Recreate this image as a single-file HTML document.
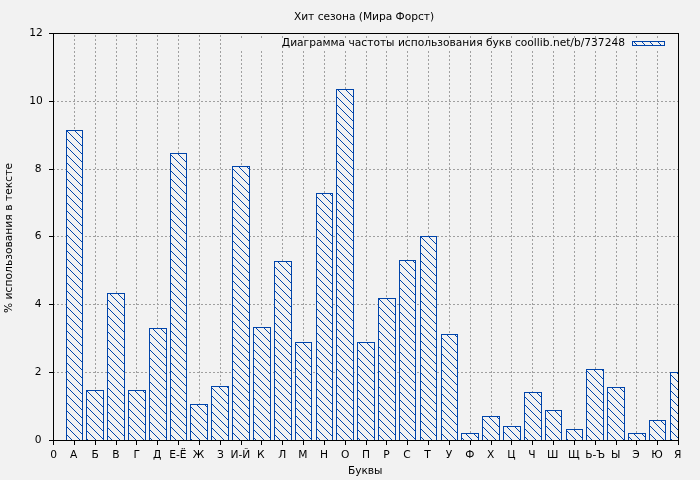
<!DOCTYPE html>
<html lang="ru"><head><meta charset="utf-8"><title>Хит сезона (Мира Форст)</title>
<style>html,body{margin:0;padding:0;background:#f2f2f2;}body{width:700px;height:480px;overflow:hidden;}svg{display:block;}</style>
</head><body>
<svg width="700" height="480" viewBox="0 0 700 480" font-family="'DejaVu Sans', 'Liberation Sans', sans-serif" font-size="10.667" fill="#000">
<rect width="700" height="480" fill="#f2f2f2"/>
<g stroke="#a0a0a0" stroke-width="1" stroke-dasharray="2 2" shape-rendering="crispEdges" fill="none">
<path d="M74.5 441V34"/>
<path d="M95.5 441V34"/>
<path d="M116.5 441V34"/>
<path d="M136.5 441V34"/>
<path d="M157.5 441V34"/>
<path d="M178.5 441V34"/>
<path d="M199.5 441V34"/>
<path d="M220.5 441V34"/>
<path d="M241.5 441V50"/>
<path d="M241.5 38V34"/>
<path d="M261.5 441V50"/>
<path d="M261.5 38V34"/>
<path d="M282.5 441V50"/>
<path d="M282.5 38V34"/>
<path d="M303.5 441V50"/>
<path d="M303.5 38V34"/>
<path d="M324.5 441V50"/>
<path d="M324.5 38V34"/>
<path d="M345.5 441V50"/>
<path d="M345.5 38V34"/>
<path d="M366.5 441V50"/>
<path d="M366.5 38V34"/>
<path d="M386.5 441V50"/>
<path d="M386.5 38V34"/>
<path d="M407.5 441V50"/>
<path d="M407.5 38V34"/>
<path d="M428.5 441V50"/>
<path d="M428.5 38V34"/>
<path d="M449.5 441V50"/>
<path d="M449.5 38V34"/>
<path d="M470.5 441V50"/>
<path d="M470.5 38V34"/>
<path d="M491.5 441V50"/>
<path d="M491.5 38V34"/>
<path d="M511.5 441V50"/>
<path d="M511.5 38V34"/>
<path d="M532.5 441V50"/>
<path d="M532.5 38V34"/>
<path d="M553.5 441V50"/>
<path d="M553.5 38V34"/>
<path d="M574.5 441V50"/>
<path d="M574.5 38V34"/>
<path d="M595.5 441V50"/>
<path d="M595.5 38V34"/>
<path d="M616.5 441V50"/>
<path d="M616.5 38V34"/>
<path d="M636.5 441V50"/>
<path d="M636.5 38V34"/>
<path d="M657.5 441V50"/>
<path d="M657.5 38V34"/>
<path d="M53 372.5H678"/>
<path d="M53 304.5H678"/>
<path d="M53 236.5H678"/>
<path d="M53 169.5H678"/>
<path d="M53 101.5H678"/>
</g>
<defs><pattern id="hp" width="8" height="8" patternUnits="userSpaceOnUse" shape-rendering="crispEdges"><rect x="0" y="0" width="1" height="1" fill="#0044aa"/><rect x="1" y="1" width="1" height="1" fill="#0044aa"/><rect x="2" y="2" width="1" height="1" fill="#0044aa"/><rect x="3" y="3" width="1" height="1" fill="#0044aa"/><rect x="4" y="4" width="1" height="1" fill="#0044aa"/><rect x="5" y="5" width="1" height="1" fill="#0044aa"/><rect x="6" y="6" width="1" height="1" fill="#0044aa"/><rect x="7" y="7" width="1" height="1" fill="#0044aa"/></pattern></defs>
<rect x="66.5" y="130.5" width="16" height="310" fill="#f2f2f2"/>
<rect x="86.5" y="390.5" width="17" height="50" fill="#f2f2f2"/>
<rect x="107.5" y="293.5" width="17" height="147" fill="#f2f2f2"/>
<rect x="128.5" y="390.5" width="17" height="50" fill="#f2f2f2"/>
<rect x="149.5" y="328.5" width="17" height="112" fill="#f2f2f2"/>
<rect x="170.5" y="153.5" width="16" height="287" fill="#f2f2f2"/>
<rect x="190.5" y="404.5" width="17" height="36" fill="#f2f2f2"/>
<rect x="211.5" y="386.5" width="17" height="54" fill="#f2f2f2"/>
<rect x="232.5" y="166.5" width="17" height="274" fill="#f2f2f2"/>
<rect x="253.5" y="327.5" width="17" height="113" fill="#f2f2f2"/>
<rect x="274.5" y="261.5" width="17" height="179" fill="#f2f2f2"/>
<rect x="295.5" y="342.5" width="16" height="98" fill="#f2f2f2"/>
<rect x="316.5" y="193.5" width="16" height="247" fill="#f2f2f2"/>
<rect x="336.5" y="89.5" width="17" height="351" fill="#f2f2f2"/>
<rect x="357.5" y="342.5" width="17" height="98" fill="#f2f2f2"/>
<rect x="378.5" y="298.5" width="17" height="142" fill="#f2f2f2"/>
<rect x="399.5" y="260.5" width="16" height="180" fill="#f2f2f2"/>
<rect x="420.5" y="236.5" width="16" height="204" fill="#f2f2f2"/>
<rect x="441.5" y="334.5" width="16" height="106" fill="#f2f2f2"/>
<rect x="461.5" y="433.5" width="17" height="7" fill="#f2f2f2"/>
<rect x="482.5" y="416.5" width="17" height="24" fill="#f2f2f2"/>
<rect x="503.5" y="426.5" width="17" height="14" fill="#f2f2f2"/>
<rect x="524.5" y="392.5" width="17" height="48" fill="#f2f2f2"/>
<rect x="545.5" y="410.5" width="16" height="30" fill="#f2f2f2"/>
<rect x="566.5" y="429.5" width="16" height="11" fill="#f2f2f2"/>
<rect x="586.5" y="369.5" width="17" height="71" fill="#f2f2f2"/>
<rect x="607.5" y="387.5" width="17" height="53" fill="#f2f2f2"/>
<rect x="628.5" y="433.5" width="17" height="7" fill="#f2f2f2"/>
<rect x="649.5" y="420.5" width="16" height="20" fill="#f2f2f2"/>
<rect x="670.5" y="372.5" width="8" height="68" fill="#f2f2f2"/>
<rect x="632.5" y="41.5" width="32" height="4" fill="#f2f2f2"/>
<rect x="66" y="130" width="17" height="311" fill="url(#hp)"/>
<rect x="86" y="390" width="18" height="51" fill="url(#hp)"/>
<rect x="107" y="293" width="18" height="148" fill="url(#hp)"/>
<rect x="128" y="390" width="18" height="51" fill="url(#hp)"/>
<rect x="149" y="328" width="18" height="113" fill="url(#hp)"/>
<rect x="170" y="153" width="17" height="288" fill="url(#hp)"/>
<rect x="190" y="404" width="18" height="37" fill="url(#hp)"/>
<rect x="211" y="386" width="18" height="55" fill="url(#hp)"/>
<rect x="232" y="166" width="18" height="275" fill="url(#hp)"/>
<rect x="253" y="327" width="18" height="114" fill="url(#hp)"/>
<rect x="274" y="261" width="18" height="180" fill="url(#hp)"/>
<rect x="295" y="342" width="17" height="99" fill="url(#hp)"/>
<rect x="316" y="193" width="17" height="248" fill="url(#hp)"/>
<rect x="336" y="89" width="18" height="352" fill="url(#hp)"/>
<rect x="357" y="342" width="18" height="99" fill="url(#hp)"/>
<rect x="378" y="298" width="18" height="143" fill="url(#hp)"/>
<rect x="399" y="260" width="17" height="181" fill="url(#hp)"/>
<rect x="420" y="236" width="17" height="205" fill="url(#hp)"/>
<rect x="441" y="334" width="17" height="107" fill="url(#hp)"/>
<rect x="461" y="433" width="18" height="8" fill="url(#hp)"/>
<rect x="482" y="416" width="18" height="25" fill="url(#hp)"/>
<rect x="503" y="426" width="18" height="15" fill="url(#hp)"/>
<rect x="524" y="392" width="18" height="49" fill="url(#hp)"/>
<rect x="545" y="410" width="17" height="31" fill="url(#hp)"/>
<rect x="566" y="429" width="17" height="12" fill="url(#hp)"/>
<rect x="586" y="369" width="18" height="72" fill="url(#hp)"/>
<rect x="607" y="387" width="18" height="54" fill="url(#hp)"/>
<rect x="628" y="433" width="18" height="8" fill="url(#hp)"/>
<rect x="649" y="420" width="17" height="21" fill="url(#hp)"/>
<rect x="670" y="372" width="9" height="69" fill="url(#hp)"/>
<rect x="632" y="41" width="33" height="5" fill="url(#hp)"/>
<g stroke="#0044aa" stroke-width="1" fill="none" shape-rendering="crispEdges">
<rect x="66.5" y="130.5" width="16" height="310"/>
<rect x="86.5" y="390.5" width="17" height="50"/>
<rect x="107.5" y="293.5" width="17" height="147"/>
<rect x="128.5" y="390.5" width="17" height="50"/>
<rect x="149.5" y="328.5" width="17" height="112"/>
<rect x="170.5" y="153.5" width="16" height="287"/>
<rect x="190.5" y="404.5" width="17" height="36"/>
<rect x="211.5" y="386.5" width="17" height="54"/>
<rect x="232.5" y="166.5" width="17" height="274"/>
<rect x="253.5" y="327.5" width="17" height="113"/>
<rect x="274.5" y="261.5" width="17" height="179"/>
<rect x="295.5" y="342.5" width="16" height="98"/>
<rect x="316.5" y="193.5" width="16" height="247"/>
<rect x="336.5" y="89.5" width="17" height="351"/>
<rect x="357.5" y="342.5" width="17" height="98"/>
<rect x="378.5" y="298.5" width="17" height="142"/>
<rect x="399.5" y="260.5" width="16" height="180"/>
<rect x="420.5" y="236.5" width="16" height="204"/>
<rect x="441.5" y="334.5" width="16" height="106"/>
<rect x="461.5" y="433.5" width="17" height="7"/>
<rect x="482.5" y="416.5" width="17" height="24"/>
<rect x="503.5" y="426.5" width="17" height="14"/>
<rect x="524.5" y="392.5" width="17" height="48"/>
<rect x="545.5" y="410.5" width="16" height="30"/>
<rect x="566.5" y="429.5" width="16" height="11"/>
<rect x="586.5" y="369.5" width="17" height="71"/>
<rect x="607.5" y="387.5" width="17" height="53"/>
<rect x="628.5" y="433.5" width="17" height="7"/>
<rect x="649.5" y="420.5" width="16" height="20"/>
<rect x="670.5" y="372.5" width="8" height="68"/>
<rect x="632.5" y="41.5" width="32" height="4"/>
</g>
<g stroke="#000" stroke-width="1" fill="none" shape-rendering="crispEdges">
<rect x="53.5" y="33.5" width="625" height="407"/>
<path d="M53.5 441v4"/>
<path d="M74.5 441v4"/>
<path d="M95.5 441v4"/>
<path d="M116.5 441v4"/>
<path d="M136.5 441v4"/>
<path d="M157.5 441v4"/>
<path d="M178.5 441v4"/>
<path d="M199.5 441v4"/>
<path d="M220.5 441v4"/>
<path d="M241.5 441v4"/>
<path d="M261.5 441v4"/>
<path d="M282.5 441v4"/>
<path d="M303.5 441v4"/>
<path d="M324.5 441v4"/>
<path d="M345.5 441v4"/>
<path d="M366.5 441v4"/>
<path d="M386.5 441v4"/>
<path d="M407.5 441v4"/>
<path d="M428.5 441v4"/>
<path d="M449.5 441v4"/>
<path d="M470.5 441v4"/>
<path d="M491.5 441v4"/>
<path d="M511.5 441v4"/>
<path d="M532.5 441v4"/>
<path d="M553.5 441v4"/>
<path d="M574.5 441v4"/>
<path d="M595.5 441v4"/>
<path d="M616.5 441v4"/>
<path d="M636.5 441v4"/>
<path d="M657.5 441v4"/>
<path d="M678.5 441v4"/>
<path d="M53 440.5h-4"/>
<path d="M53 372.5h-4"/>
<path d="M53 304.5h-4"/>
<path d="M53 236.5h-4"/>
<path d="M53 169.5h-4"/>
<path d="M53 101.5h-4"/>
<path d="M53 33.5h-4"/>
</g>
<text x="53.60" y="458" text-anchor="middle">0</text>
<text x="73.63" y="458" text-anchor="middle">А</text>
<text x="95.07" y="458" text-anchor="middle">Б</text>
<text x="116.00" y="458" text-anchor="middle">В</text>
<text x="136.83" y="458" text-anchor="middle">Г</text>
<text x="157.27" y="458" text-anchor="middle">Д</text>
<text x="177.95" y="458" text-anchor="middle">Е-Ё</text>
<text x="198.53" y="458" text-anchor="middle">Ж</text>
<text x="220.37" y="458" text-anchor="middle">З</text>
<text x="240.45" y="458" text-anchor="middle">И-Й</text>
<text x="260.73" y="458" text-anchor="middle">К</text>
<text x="282.27" y="458" text-anchor="middle">Л</text>
<text x="302.75" y="458" text-anchor="middle">М</text>
<text x="324.08" y="458" text-anchor="middle">Н</text>
<text x="345.27" y="458" text-anchor="middle">О</text>
<text x="366.00" y="458" text-anchor="middle">П</text>
<text x="386.43" y="458" text-anchor="middle">Р</text>
<text x="406.92" y="458" text-anchor="middle">С</text>
<text x="427.60" y="458" text-anchor="middle">Т</text>
<text x="448.93" y="458" text-anchor="middle">У</text>
<text x="469.77" y="458" text-anchor="middle">Ф</text>
<text x="490.60" y="458" text-anchor="middle">Х</text>
<text x="511.43" y="458" text-anchor="middle">Ц</text>
<text x="532.02" y="458" text-anchor="middle">Ч</text>
<text x="552.80" y="458" text-anchor="middle">Ш</text>
<text x="573.78" y="458" text-anchor="middle">Щ</text>
<text x="595.17" y="458" text-anchor="middle">Ь-Ъ</text>
<text x="615.60" y="458" text-anchor="middle">Ы</text>
<text x="635.93" y="458" text-anchor="middle">Э</text>
<text x="656.92" y="458" text-anchor="middle">Ю</text>
<text x="677.75" y="458" text-anchor="middle">Я</text>
<text x="41.5" y="443" text-anchor="end">0</text>
<text x="41.5" y="375" text-anchor="end">2</text>
<text x="41.5" y="307" text-anchor="end">4</text>
<text x="41.5" y="239" text-anchor="end">6</text>
<text x="41.5" y="172" text-anchor="end">8</text>
<text x="42.7" y="104" text-anchor="end">10</text>
<text x="42.7" y="36" text-anchor="end">12</text>
<text x="364" y="20" text-anchor="middle" textLength="140.1">Хит сезона (Мира Форст)</text>
<text x="625" y="46" text-anchor="end">Диаграмма частоты использования букв coollib.net/b/737248</text>
<text x="365.2" y="474" text-anchor="middle" textLength="34.2">Буквы</text>
<text transform="translate(12.3,238) rotate(-90)" text-anchor="middle" textLength="150">% использования в тексте</text>
</svg>
</body></html>
